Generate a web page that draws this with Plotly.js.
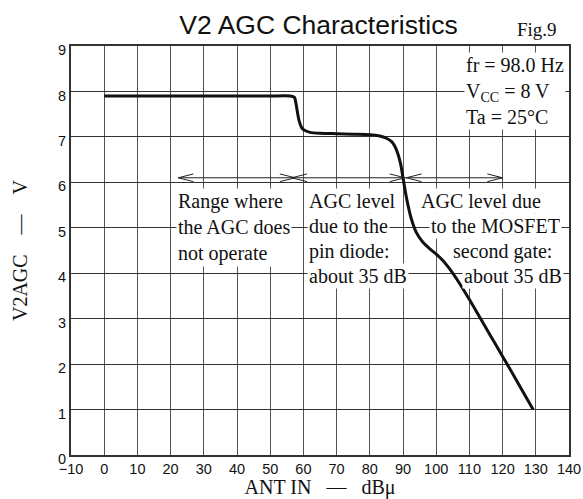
<!DOCTYPE html>
<html>
<head>
<meta charset="utf-8">
<script src="https://cdn.plot.ly/plotly-3.0.1.min.js"></script>
<style>html,body{margin:0;padding:0;background:#fff;}#chart{width:583px;height:499px;}</style>
</head>
<body>
<div id="chart"></div>
<script>
// ANT IN (dBμ) and V2AGC (V)
const antIn = [0, 10, 20, 30, 40, 50, 56, 57.3, 57.8, 58.3, 58.8, 59.5, 60.5, 62, 65, 70, 75, 80, 83, 85, 86.5, 87.5, 88.5, 89.3, 90, 90.7, 91.5, 92.5, 94, 96, 98, 100, 102, 104, 107, 110, 114, 118, 122, 126, 129.2];
const v2agc = [7.9, 7.9, 7.9, 7.9, 7.9, 7.9, 7.9, 7.87, 7.72, 7.5, 7.33, 7.2, 7.14, 7.1, 7.08, 7.07, 7.06, 7.05, 7.02, 6.97, 6.9, 6.8, 6.62, 6.4, 6.1, 5.8, 5.5, 5.2, 4.9, 4.68, 4.54, 4.42, 4.28, 4.1, 3.78, 3.42, 2.92, 2.42, 1.92, 1.41, 1.0];

// operating ranges marked with double arrows
const rangeFrom = [22.3, 56.5, 91];
const rangeTo = [57.5, 90.6, 120];
const arrowLevel = 6.1;

const titleText = "V2 AGC Characteristics";
const figLabel = "Fig.9";
const conditions = "fr = 98.0 Hz<br>V<sub>CC</sub> = 8 V<br>Ta = 25°C";

const serif = "Liberation Serif, Times New Roman, serif";
const sans = "Liberation Sans, Arial, sans-serif";

const shapes = [];
const headLen = 4.6, headHalf = 0.085;
const lineStyle = {color: "#222", width: 1};
shapes.push({type: "line", xref: "x", yref: "y", x0: Math.min(...rangeFrom), x1: Math.max(...rangeTo), y0: arrowLevel, y1: arrowLevel, line: lineStyle});
rangeFrom.forEach(function (a) {
  shapes.push({type: "line", xref: "x", yref: "y", x0: a, y0: arrowLevel, x1: a + headLen, y1: arrowLevel + headHalf, line: lineStyle});
  shapes.push({type: "line", xref: "x", yref: "y", x0: a, y0: arrowLevel, x1: a + headLen, y1: arrowLevel - headHalf, line: lineStyle});
});
rangeTo.forEach(function (b) {
  shapes.push({type: "line", xref: "x", yref: "y", x0: b, y0: arrowLevel, x1: b - headLen, y1: arrowLevel + headHalf, line: lineStyle});
  shapes.push({type: "line", xref: "x", yref: "y", x0: b, y0: arrowLevel, x1: b - headLen, y1: arrowLevel - headHalf, line: lineStyle});
});

const txtFont = {family: serif, size: 20, color: "#111"};
function label(text, x, y, xanchor, align) {
  return {text: text, x: x, y: y, xref: "x", yref: "y", xanchor: xanchor, yanchor: "top", align: align,
    showarrow: false, bgcolor: "#fff", borderpad: 1, font: txtFont};
}
const rowStep = 0.55, rowTop = 5.88;

const annotations = [
  {text: figLabel, xref: "paper", yref: "paper", x: 0.935, y: 1.04, xanchor: "center", yanchor: "middle",
    showarrow: false, font: {family: serif, size: 19, color: "#111"}},
  label(conditions, 139.2, 8.86, "right", "left"),
  label("Range where<br>the AGC does<br>not operate", 21.5, rowTop, "left", "left"),
  label("AGC level", 61.2, rowTop, "left", "left"),
  label("due to the", 61.2, rowTop - rowStep, "left", "left"),
  label("pin diode:", 61.2, rowTop - 2 * rowStep, "left", "left"),
  label("about 35 dB", 61.2, rowTop - 3 * rowStep, "left", "left"),
  label("AGC level due", 94.8, rowTop, "left", "left"),
  label("to the MOSFET", 97.8, rowTop - rowStep, "left", "left"),
  label("second gate:", 104.6, rowTop - 2 * rowStep, "left", "left"),
  label("about 35 dB", 107.8, rowTop - 3 * rowStep, "left", "left")
];

const trace = {x: antIn, y: v2agc, type: "scatter", mode: "lines", line: {color: "#111", width: 3, shape: "spline", smoothing: 0.6}, hoverinfo: "skip"};

const layout = {
  width: 583, height: 499,
  margin: {l: 71, r: 14, t: 46, b: 44},
  paper_bgcolor: "#fff", plot_bgcolor: "#fff",
  showlegend: false,
  title: {text: titleText, x: 0.497, xref: "paper", y: 0.95, yref: "container", xanchor: "center", yanchor: "middle",
    font: {family: sans, size: 26.5, color: "#111"}},
  xaxis: {range: [-10, 140], dtick: 10, tick0: 0, showgrid: true, gridcolor: "#555", gridwidth: 1,
    zeroline: false, showline: true, mirror: true, linecolor: "#333", linewidth: 2, ticks: "",
    ticklabelstandoff: 0,
    tickfont: {family: sans, size: 14.5, color: "#111"},
    title: {text: "ANT IN\u00a0\u00a0\u00a0—\u00a0\u00a0\u00a0dBμ", standoff: 9, font: {family: serif, size: 20, color: "#111"}}},
  yaxis: {range: [0, 9], dtick: 1, showgrid: true, gridcolor: "#333", gridwidth: 1,
    zeroline: false, showline: true, mirror: true, linecolor: "#333", linewidth: 2, ticks: "",
    ticklabelshift: 4,
    tickfont: {family: sans, size: 14.5, color: "#111"},
    title: {text: "V2AGC\u00a0\u00a0\u00a0\u00a0—\u00a0\u00a0\u00a0\u00a0V", standoff: 25, font: {family: serif, size: 20, color: "#111"}}},
  shapes: shapes,
  annotations: annotations
};

Plotly.newPlot("chart", [trace], layout, {staticPlot: true, displayModeBar: false});
</script>
</body>
</html>
